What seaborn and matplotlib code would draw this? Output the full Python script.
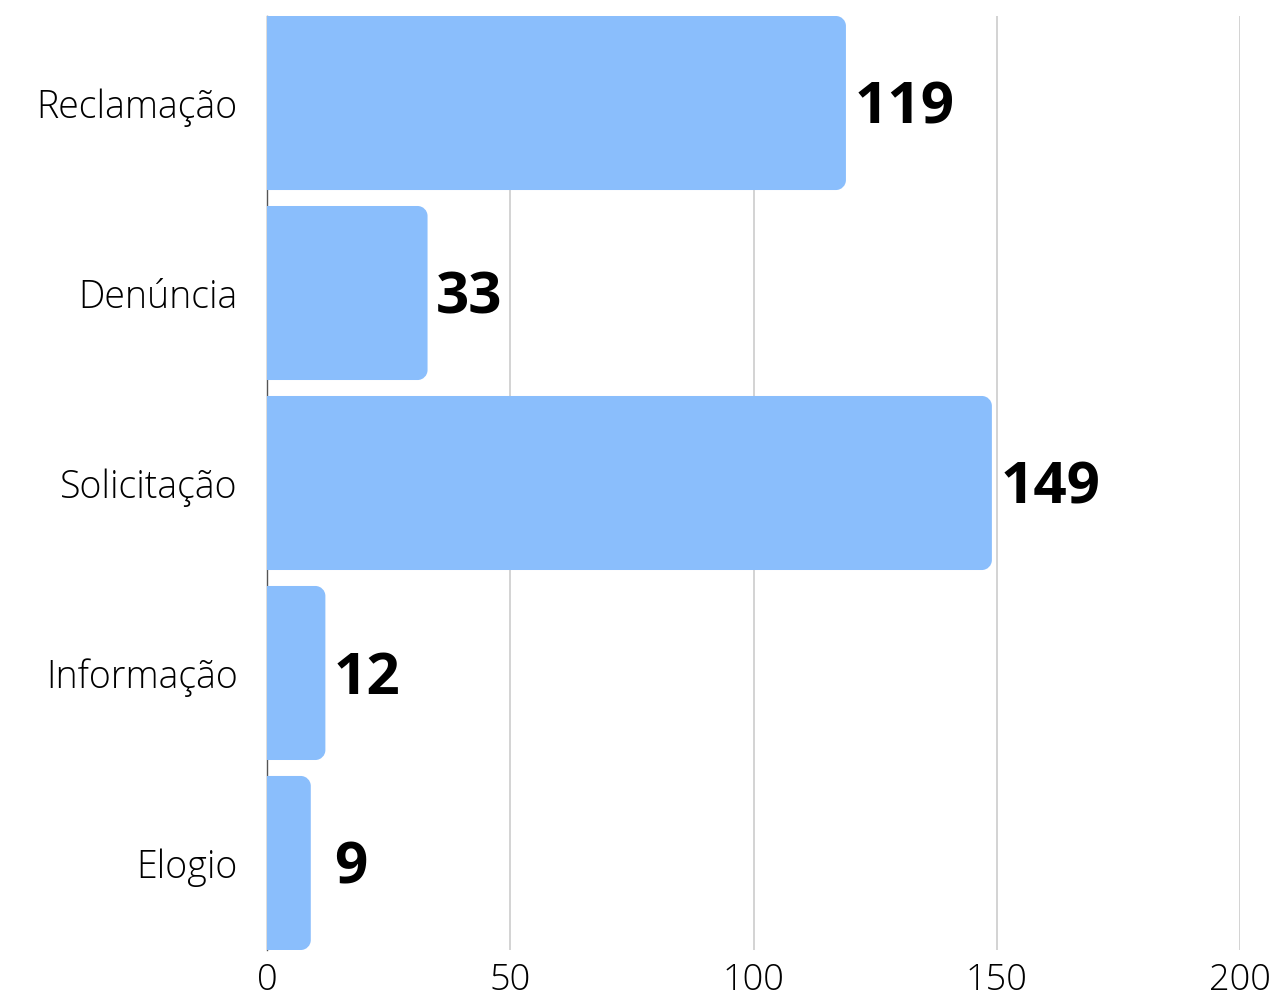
import numpy as np
import pandas as pd
import matplotlib
matplotlib.use("Agg")
import matplotlib.pyplot as plt
import seaborn as sns
from matplotlib.path import Path
from matplotlib.patches import PathPatch

categories = ["Reclamação", "Denúncia", "Solicitação", "Informação", "Elogio"]
values = [119, 33, 149, 12, 9]
x_ticks = [0, 50, 100, 150, 200]

BAR_COLOR = "#8abefc"

sns.set_theme(style="white")
plt.rcParams["font.family"] = ["Open Sans", "DejaVu Sans"]

df = pd.DataFrame({"cat": categories, "val": values})

fig = plt.figure(figsize=(12.79, 10.01), dpi=100)
ax = fig.add_axes([267 / 1279, 51 / 1001, 973 / 1279, 934 / 1001])

bar_w = 0.916
sns.barplot(data=df, y="cat", x="val", orient="h", color=BAR_COLOR,
            width=bar_w, saturation=1, ax=ax, zorder=3)

ax.set_xlim(0, 200)
ax.set_ylim(4 + bar_w / 2, -bar_w / 2)

# replace rectangles by right-rounded bars
px_per_x = 973 / 200
px_per_y = 934 / (4 + bar_w)
r_px = 10
rx = r_px / px_per_x
ry = r_px / px_per_y
k = 0.5523
for p in list(ax.patches):
    x0, y0 = p.get_x(), p.get_y()
    w, h = p.get_width(), p.get_height()
    x1, y1 = x0 + w, y0 + h
    verts = [
        (x0, y0),
        (x1 - rx, y0),
        (x1 - rx + k * rx, y0), (x1, y0 + ry - k * ry), (x1, y0 + ry),
        (x1, y1 - ry),
        (x1, y1 - ry + k * ry), (x1 - rx + k * rx, y1), (x1 - rx, y1),
        (x0, y1),
        (x0, y0),
    ]
    codes = [Path.MOVETO, Path.LINETO,
             Path.CURVE4, Path.CURVE4, Path.CURVE4,
             Path.LINETO,
             Path.CURVE4, Path.CURVE4, Path.CURVE4,
             Path.LINETO, Path.CLOSEPOLY]
    patch = PathPatch(Path(verts, codes), facecolor=BAR_COLOR, edgecolor="none", zorder=3)
    p.remove()
    ax.add_patch(patch)

# value labels
for i, v in enumerate(values):
    ax.annotate(str(v), xy=(max(v, 12), i), xytext=(6, -4), textcoords="offset points",
                ha="left", va="center", fontsize=42, fontweight="bold",
                family=["Open Sans", "DejaVu Sans"], color="black", zorder=4)

ax.set_xticks(x_ticks)
ax.set_xticklabels([str(t) for t in x_ticks])
ax.grid(axis="x", color="#c8c8c8", linewidth=1.1, zorder=0)
ax.grid(axis="y", visible=False)
for s in ["top", "right", "bottom"]:
    ax.spines[s].set_visible(False)
ax.spines["left"].set_color("#555555")
ax.spines["left"].set_linewidth(1.0)
ax.spines["left"].set_zorder(2)
ax.tick_params(axis="y", length=0, labelsize=27, colors="black", pad=21)
ax.tick_params(axis="x", length=0, labelsize=26, colors="black", pad=9)
for t in ax.get_yticklabels() + ax.get_xticklabels():
    t.set_fontweight("light")
ax.set_xlabel("")
ax.set_ylabel("")

fig.savefig("out.png", dpi=100, facecolor="white")
